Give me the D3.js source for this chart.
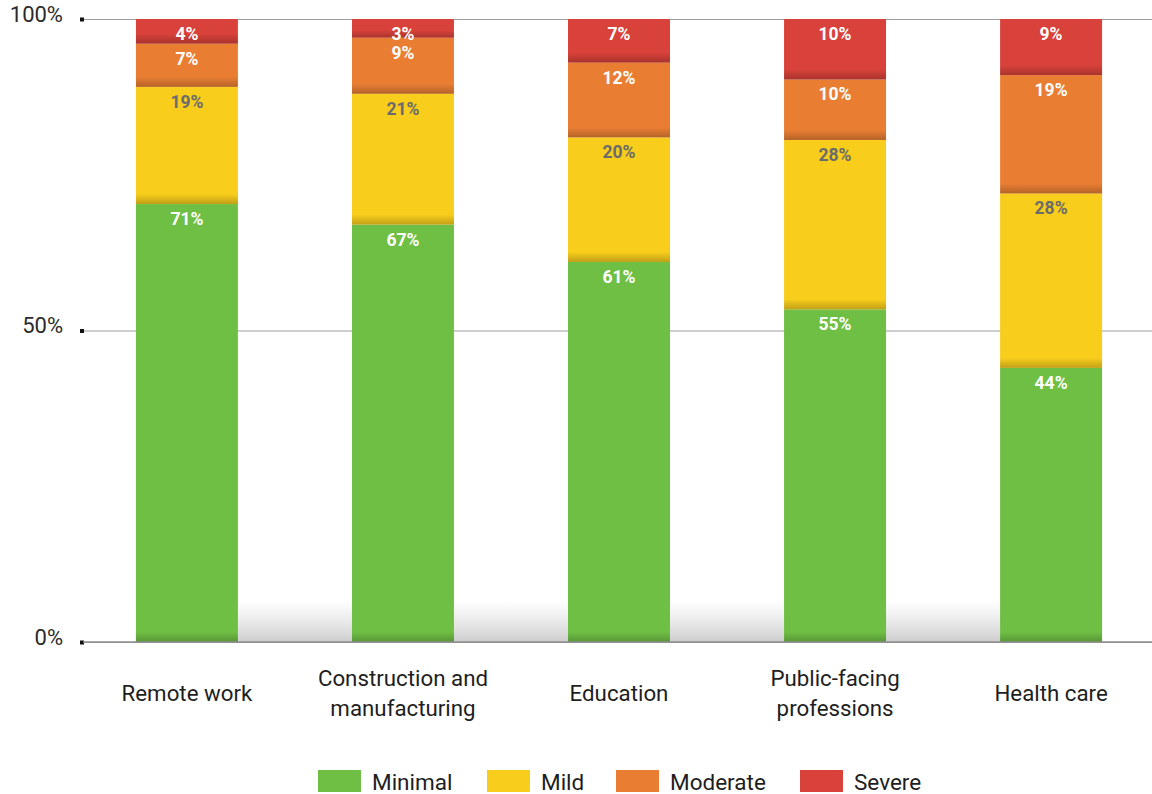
<!DOCTYPE html>
<html lang="en">
<head>
  <meta charset="UTF-8">
  <title>Severity by work setting - stacked bars</title>
  <script src="https://d3js.org/d3.v7.min.js"></script>
  <style>
    body { margin: 0; background: #fff; }
    text { font-family: Roboto, "Noto Sans", sans-serif; }
  </style>
</head>
<body>
  <div id="chart"></div>

  <script>
    // data (percent of respondents)
    const categories = ["Remote work", "Construction and manufacturing", "Education", "Public-facing professions", "Health care"];
    const categoryLines = [["Remote work"], ["Construction and", "manufacturing"], ["Education"], ["Public-facing", "professions"], ["Health care"]];
    const seriesNames = ["Minimal", "Mild", "Moderate", "Severe"];
    const minimal = [71, 67, 61, 55, 44];
    const mild = [19, 21, 20, 28, 28];
    const moderate = [7, 9, 12, 10, 19];
    const severe = [4, 3, 7, 10, 9];
    const yTicks = [0, 0.5, 1];

    const colors = ["#6fbf44", "#f8cd1c", "#e97e33", "#d8423a"];
    const labelColors = ["#ffffff", "#6b6b6b", "#ffffff", "#ffffff"];

    const W = 1152, H = 794;
    const margin = { top: 19, right: 0, bottom: 152, left: 83 };
    const width = W - margin.left - margin.right;
    const height = H - margin.top - margin.bottom;

    const rows = categories.map((c, i) => ({
      cat: c, Minimal: minimal[i], Mild: mild[i], Moderate: moderate[i], Severe: severe[i]
    }));

    const stacked = d3.stack().keys(seriesNames).offset(d3.stackOffsetExpand)(rows);

    const svg = d3.select("#chart").append("svg")
      .attr("width", W).attr("height", H);

    const defs = svg.append("defs");
    // darker band at the bottom of each segment
    const shade = defs.append("linearGradient").attr("id", "shade")
      .attr("x1", 0).attr("y1", 0).attr("x2", 0).attr("y2", 1);
    shade.append("stop").attr("offset", "0%").attr("stop-color", "#000").attr("stop-opacity", 0);
    shade.append("stop").attr("offset", "100%").attr("stop-color", "#000").attr("stop-opacity", 0.22);
    // floor shadow
    const floor = defs.append("linearGradient").attr("id", "floor")
      .attr("x1", 0).attr("y1", 0).attr("x2", 0).attr("y2", 1);
    floor.append("stop").attr("offset", "0%").attr("stop-color", "#bbb").attr("stop-opacity", 0);
    floor.append("stop").attr("offset", "100%").attr("stop-color", "#9a9a9e").attr("stop-opacity", 0.5);

    const g = svg.append("g").attr("transform", `translate(${margin.left},${margin.top})`);

    const x = d3.scaleBand().domain(categories).range([0, width + 3]).paddingInner(0.528).paddingOuter(0.245);
    const y = d3.scaleLinear().domain([0, 1]).range([height, 0]);

    // floor shadow behind the bars
    g.append("rect")
      .attr("x", x(categories[0])).attr("y", height - 42)
      .attr("width", x(categories[4]) + x.bandwidth() - x(categories[0])).attr("height", 42)
      .attr("fill", "url(#floor)");

    // gridlines
    const yAxis = d3.axisLeft(y).tickValues(yTicks).tickSize(-width).tickFormat(d3.format(".0%"));
    const ya = g.append("g").call(yAxis);
    ya.select(".domain").remove();
    ya.selectAll(".tick line").attr("stroke", "#9d9d9d").attr("stroke-width", 1);
    ya.selectAll(".tick text")
      .attr("x", -20).attr("dy", "0.1em")
      .attr("fill", "#2b2b2b").style("font-size", "22px");
    ya.selectAll(".tick").append("rect")
      .attr("x", -3).attr("y", -2).attr("width", 4).attr("height", 4).attr("fill", "#111");

    // bars
    const layers = g.selectAll(".layer").data(stacked).join("g").attr("class", "layer");
    layers.selectAll("rect.seg")
      .data((s, si) => s.map((d, i) => ({ d, si, i })))
      .join("rect").attr("class", "seg")
      .attr("x", o => x(categories[o.i]))
      .attr("y", o => y(o.d[1]))
      .attr("width", x.bandwidth())
      .attr("height", o => y(o.d[0]) - y(o.d[1]))
      .attr("fill", o => colors[o.si]);

    // shading strip at bottom of each segment
    layers.selectAll("rect.shade")
      .data((s, si) => s.map((d, i) => ({ d, si, i })))
      .join("rect").attr("class", "shade")
      .attr("x", o => x(categories[o.i]))
      .attr("y", o => y(o.d[0]) - Math.min(10, (y(o.d[0]) - y(o.d[1])) * 0.4))
      .attr("width", x.bandwidth())
      .attr("height", o => Math.min(10, (y(o.d[0]) - y(o.d[1])) * 0.4))
      .attr("fill", "url(#shade)");

    const raw = [minimal, mild, moderate, severe];
    layers.selectAll("text.val")
      .data((s, si) => s.map((d, i) => ({ d, si, i })))
      .join("text").attr("class", "val")
      .attr("x", o => x(categories[o.i]) + x.bandwidth() / 2)
      .attr("y", o => y(o.d[1]) + 21)
      .attr("text-anchor", "middle")
      .attr("fill", o => labelColors[o.si])
      .style("font-size", "17.5px").style("font-weight", "bold")
      .text(o => raw[o.si][o.i] + "%");

    // baseline
    g.append("line").attr("x1", 0).attr("x2", width).attr("y1", height).attr("y2", height)
      .attr("stroke", "#8e8e8e").attr("stroke-width", 1.5);

    // category labels
    const cl = g.selectAll(".cat").data(categories).join("text").attr("class", "cat")
      .attr("text-anchor", "middle")
      .attr("fill", "#1e1e1e")
      .style("font-size", "23px")
      .attr("transform", (c, i) => {
        const n = categoryLines[i].length;
        const yy = height + (n === 1 ? 59 : 44);
        return `translate(${x(c) + x.bandwidth() / 2},${yy}) scale(0.97,1)`;
      });
    cl.selectAll("tspan").data((c, i) => categoryLines[i]).join("tspan")
      .attr("x", 0).attr("dy", (t, j) => j === 0 ? 0 : 30).text(t => t);

    // legend
    const legendX = [318, 487, 616, 800];
    const leg = svg.append("g").selectAll("g").data(seriesNames).join("g")
      .attr("transform", (d, i) => `translate(${legendX[i]},770)`);
    leg.append("rect").attr("width", 43).attr("height", 22).attr("fill", (d, i) => colors[i]);
    leg.append("text").attr("x", 54).attr("y", 20)
      .attr("fill", "#1e1e1e").style("font-size", "22.5px")
      .text(d => d);
  </script>
</body>
</html>
